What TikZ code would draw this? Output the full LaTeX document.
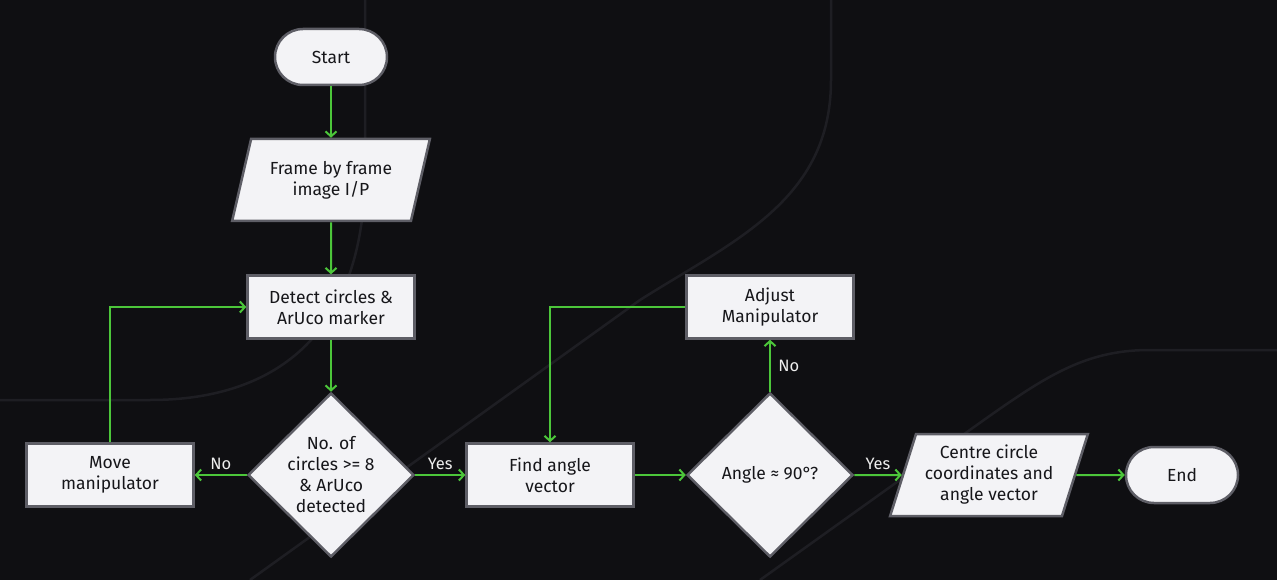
\documentclass[tikz,border=0pt]{standalone}
\usepackage{fontspec}
\setmainfont{Fira Sans}
\usetikzlibrary{shapes.geometric,arrows.meta}
\definecolor{bgcol}{HTML}{0F0F12}
\definecolor{fillcol}{HTML}{F3F3F6}
\definecolor{bordercol}{HTML}{5E5E66}
\definecolor{flowcol}{HTML}{4CC63A}
\definecolor{tracecol}{HTML}{1E1E23}
\definecolor{inkcol}{HTML}{16161A}
\definecolor{labelcol}{HTML}{EDEDED}

\begin{document}
\begin{tikzpicture}[x=1pt,y=-1pt]
	\tikzset{base/.style={draw=bordercol, fill=fillcol, line width=2.5pt, text=inkcol, font=\fontsize{17.5}{21}\selectfont, align=center, inner sep=0pt}}
	\tikzset{terminal/.style={base, rectangle, rounded corners=28pt, minimum width=112pt, minimum height=56pt}}
	\tikzset{process/.style={base, rectangle, minimum width=167pt, minimum height=63pt}}
	\tikzset{io/.style={base, trapezium, trapezium left angle=69, trapezium right angle=111, trapezium stretches=true, minimum width=198pt, minimum height=82pt}}
	\tikzset{decision/.style={base, diamond, inner sep=-14pt, minimum width=166pt, minimum height=164pt}}
	\tikzset{flow/.style={draw=flowcol, line width=2pt, -{Straight Barb[length=5pt,width=11pt]}}}
	\tikzset{answer/.style={text=labelcol, font=\fontsize{16.5}{20}\selectfont}}
	\tikzset{trace/.style={draw=tracecol, line width=2.5pt}}

	\fill[bgcol] (0,0) rectangle (1277,580);
	\useasboundingbox (0,0) rectangle (1277,580);

	% faint background traces
	\draw[trace] (365,0) -- (365,170) .. controls (365,330) and (280,400) .. (150,400) -- (0,400);
	\draw[trace] (831,0) -- (831,80) .. controls (831,200) and (735,240) .. (640,300) -- (250,580);
	\draw[trace] (760,580) -- (960,437) .. controls (1040,380) and (1080,350) .. (1150,350) -- (1277,350);

	\node[terminal] (start) at (331,57) {Start};
	\node[io] (frame) at (331,180) {Frame by frame\\image I/P};
	\node[process] (detect) at (331,307) {Detect circles \&\\ArUco marker};
	\node[decision] (check) at (331,475) {No. of\\circles >= 8\\\& ArUco\\detected};
	\node[process] (move) at (110,475) {Move\\manipulator};
	\node[process] (find) at (550,475) {Find angle\\vector};
	\node[decision] (angle) at (770,475) {Angle ≈ 90°?};
	\node[process] (adjust) at (770,307) {Adjust\\Manipulator};
	\node[io] (result) at (989,475) {Centre circle\\coordinates and\\angle vector};
	\node[terminal] (stop) at (1182,475) {End};

	\draw[flow] (start) -- (frame);
	\draw[flow] (frame) -- (detect);
	\draw[flow] (detect) -- (check);
	\draw[flow] (check) -- node[answer, above=1pt] {No} (move);
	\draw[flow] (check) -- node[answer, above=1pt] {Yes} (find);
	\draw[flow] (move.north) |- (detect.west);
	\draw[flow] (find) -- (angle);
	\draw[flow] (angle) -- node[answer, right=4pt] {No} (adjust);
	\draw[flow] (adjust.west) -| (find.north);
	\draw[flow] (angle) -- node[answer, above=1pt] {Yes} (result);
	\draw[flow] (result) -- (stop);
\end{tikzpicture}
\end{document}
